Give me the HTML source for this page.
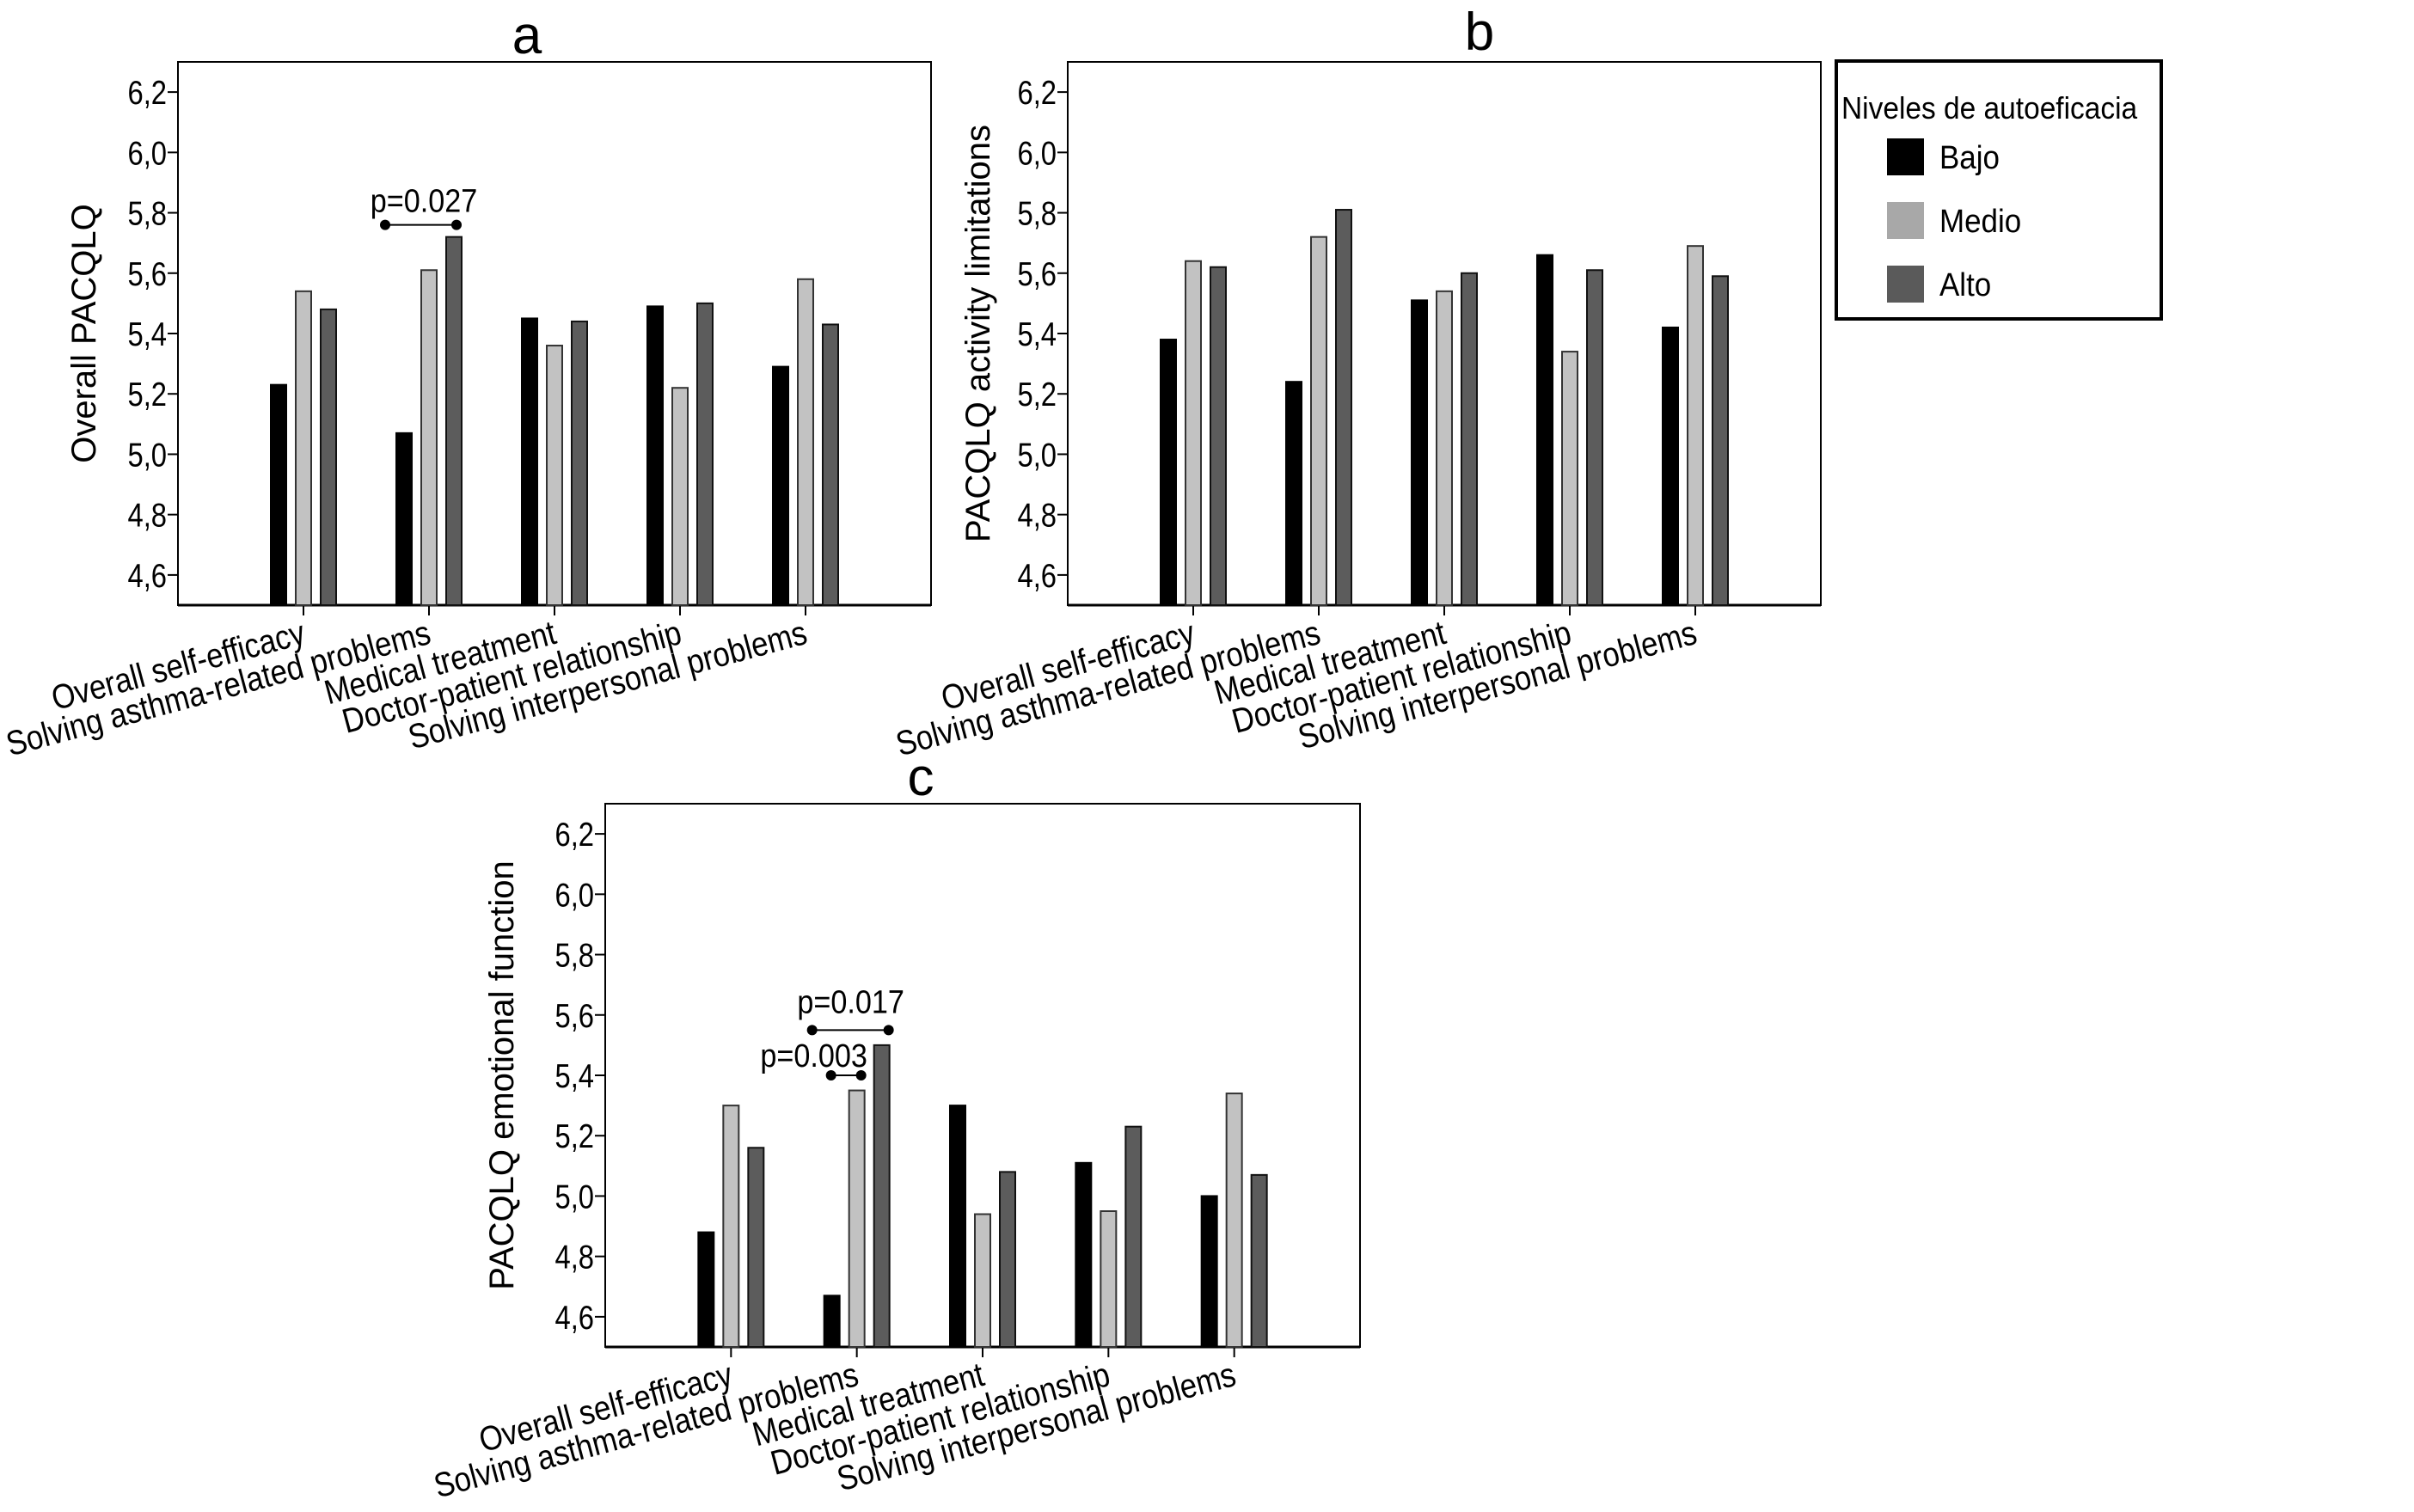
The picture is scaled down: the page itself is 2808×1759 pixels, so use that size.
<!DOCTYPE html>
<html><head><meta charset="utf-8"><style>
html,body{margin:0;padding:0;background:#fff;}
svg{display:block;}
text{font-family:"Liberation Sans",sans-serif;fill:#000;}
</style></head><body>
<svg id="fig" width="2808" height="1759" viewBox="0 0 2808 1759"></svg>
<script>
const categories = ["Overall self-efficacy","Solving asthma-related problems","Medical treatment","Doctor-patient relationship","Solving interpersonal problems"];
const seriesNames = ["Bajo","Medio","Alto"];
const yTicks = [4.6,4.8,5.0,5.2,5.4,5.6,5.8,6.0,6.2];
const yTickLabels = ["4,6","4,8","5,0","5,2","5,4","5,6","5,8","6,0","6,2"];
const aBajo = [5.23,5.07,5.45,5.49,5.29];
const aMedio = [5.54,5.61,5.36,5.22,5.58];
const aAlto = [5.48,5.72,5.44,5.50,5.43];
const bBajo = [5.38,5.24,5.51,5.66,5.42];
const bMedio = [5.64,5.72,5.54,5.34,5.69];
const bAlto = [5.62,5.81,5.60,5.61,5.59];
const cBajo = [4.88,4.67,5.30,5.11,5.00];
const cMedio = [5.30,5.35,4.94,4.95,5.34];
const cAlto = [5.16,5.50,5.08,5.23,5.07];
const yDomain = [4.5,6.3];

const NS="http://www.w3.org/2000/svg";
const svg=document.getElementById('fig');
function mk(tag,attrs,parent){const e=document.createElementNS(NS,tag);for(const k in attrs)e.setAttribute(k,attrs[k]);(parent||svg).appendChild(e);return e;}
const fills=["#000000","#c2c2c2","#5c5c5c"];
const strokes=["#000","#333","#111"];

function panel(id,x0,x1,y0,y1,letter,letterX,letterY,ylabel,ylabelX,vals,sigs){
  const g=mk('g',{});
  
  
  const ys=v=>y1-(v-yDomain[0])/(yDomain[1]-yDomain[0])*(y1-y0);
  const step=(x1-x0)/6;
  const xs=i=>x0+step*(i+1);
  const t=mk('text',{x:letterX,y:letterY,'font-size':62,'text-anchor':'middle'},g);t.textContent=letter;
  
  
  const frame=mk('rect',{x:x0,y:y0,width:x1-x0,height:y1-y0,fill:'none',stroke:'#000','stroke-width':2},g);
  
  
  mk('line',{x1:x0,y1:y1,x2:x1,y2:y1,stroke:'#000','stroke-width':3},g);
  yTicks.forEach((v,i)=>{
    mk('line',{x1:x0-12,x2:x0,y1:ys(v),y2:ys(v),stroke:'#000','stroke-width':2},g);
    const tl=mk('text',{x:0,y:0,'font-size':39,'text-anchor':'end',transform:`translate(${x0-13},${ys(v)+14}) scale(0.84,1)`},g);
    tl.textContent=yTickLabels[i];
    
    
  });
  const yl=mk('text',{x:0,y:0,'font-size':40,'text-anchor':'middle',transform:`translate(${ylabelX},${(y0+y1)/2}) rotate(-90)`},g);
  yl.textContent=ylabel;
  
  
  categories.forEach((c,i)=>{
    const cx=xs(i);
    mk('line',{x1:cx,x2:cx,y1:y1,y2:y1+12,stroke:'#000','stroke-width':2},g);
    const cl=mk('text',{x:0,y:0,'font-size':40,'text-anchor':'end',transform:`translate(${cx+4},${y1+44}) rotate(-15) scale(0.87,1)`},g);
    cl.textContent=c;
    
    
    vals.forEach((arr,s)=>{
      const bx=cx+(s-1)*29-9;
      const r=mk('rect',{x:bx,y:ys(arr[i]),width:18,height:y1-ys(arr[i]),fill:fills[s],stroke:strokes[s],'stroke-width':2},g);
      
      
    });
  });
  sigs.forEach(sg=>{
    const cx=xs(sg.cat);
    const yy=ys(sg.v);
    const sgG=mk('g',{},g);
    
    
    mk('line',{x1:cx+sg.l,x2:cx+sg.r,y1:yy,y2:yy,stroke:'#000','stroke-width':2},sgG);
    mk('circle',{cx:cx+sg.l,cy:yy,r:6,fill:'#000'},sgG);
    mk('circle',{cx:cx+sg.r,cy:yy,r:6,fill:'#000'},sgG);
    const st=mk('text',{x:0,y:0,'font-size':38,'text-anchor':'middle',transform:`translate(${cx+sg.tx},${yy-sg.ty}) scale(0.9,1)`},sgG);
    st.textContent=sg.label;
  });
}
panel('a',207,1083,72,704,'a',613,62,'Overall PACQLQ',111,[aBajo,aMedio,aAlto],
  [{cat:1,v:5.76,l:-51,r:32,tx:-6,ty:15,label:'p=0.027'}]);
panel('b',1242,2118,72,704,'b',1721,58,'PACQLQ activity limitations',1151,[bBajo,bMedio,bAlto],[]);
panel('c',704,1582,935,1567,'c',1071,925,'PACQLQ emotional function',597,[cBajo,cMedio,cAlto],
  [{cat:1,v:5.55,l:-52,r:37,tx:-7,ty:20,label:'p=0.017'},
   {cat:1,v:5.40,l:-30,r:5,tx:-50,ty:10,label:'p=0.003'}]);

// legend
const lg=mk('g',{});


mk('rect',{x:2136,y:71,width:378,height:300,fill:'#fff',stroke:'#000','stroke-width':4},lg);
const lt=mk('text',{x:0,y:0,'font-size':36,transform:'translate(2142,138) scale(0.93,1)'},lg);
lt.textContent='Niveles de autoeficacia';


const legFills=["#000000","#a8a8a8","#5a5a5a"];
seriesNames.forEach((n,s)=>{
  const yy=161+s*74;
  const e=mk('g',{},lg);
  
  
  mk('rect',{x:2195,y:yy,width:43,height:43,fill:legFills[s]},e);
  const tx=mk('text',{x:0,y:0,'font-size':38,transform:`translate(2256,${yy+35}) scale(0.92,1)`},e);
  tx.textContent=n;
});
</script>
</body></html>
